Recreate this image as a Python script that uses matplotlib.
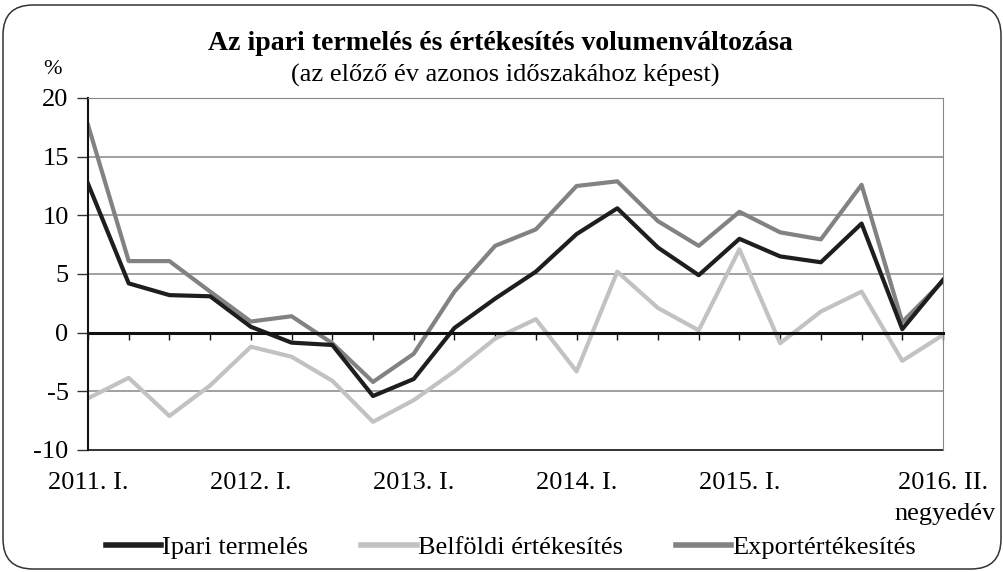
import matplotlib.pyplot as plt
from matplotlib.patches import FancyBboxPatch
from matplotlib.transforms import IdentityTransform

# negyedéves adatok, 2011. I. - 2016. II.
quarters = list(range(22))
tick_pos = [0, 4, 8, 12, 16, 21]
tick_labels = ['2011. I.', '2012. I.', '2013. I.', '2014. I.', '2015. I.', '2016. II.']

ipari = [12.7, 4.2, 3.2, 3.1, 0.5, -0.85, -1.05, -5.4, -3.95, 0.4, 2.9,
         5.2, 8.4, 10.6, 7.25, 4.9, 8.0, 6.5, 6.0, 9.3, 0.3, 4.5]
belfoldi = [-5.6, -3.85, -7.1, -4.5, -1.2, -2.05, -4.1, -7.6, -5.75, -3.3, -0.5,
            1.15, -3.3, 5.2, 2.1, 0.2, 7.1, -0.9, 1.8, 3.5, -2.4, -0.2]
export = [17.7, 6.1, 6.1, 3.5, 0.95, 1.4, -0.9, -4.2, -1.8, 3.5, 7.4,
          8.8, 12.5, 12.9, 9.5, 7.4, 10.3, 8.55, 7.95, 12.6, 0.9, 4.4]

plt.rcParams['font.family'] = ['Liberation Serif', 'DejaVu Serif']
fs = 19

W, H = 1004, 572
fig = plt.figure(figsize=(W / 100, H / 100), dpi=100)

# lekerekített keret (pixelben)
border = FancyBboxPatch((3, 3), W - 6, H - 8,
                        boxstyle='round,pad=0,rounding_size=30',
                        transform=IdentityTransform(), fill=False,
                        edgecolor='#333333', linewidth=1.1)
fig.patches.append(border)

ax = fig.add_axes([88 / W, 1 - 450 / H, (943 - 88) / W, (450 - 98) / H])

ax.set_xlim(0, 21)
ax.set_ylim(-10, 20)
ax.set_yticks([-10, -5, 0, 5, 10, 15, 20])
ax.set_yticklabels(['-10', '-5', '0', '5', '10', '15', '20'], fontsize=fs)
for v in [-5, 5, 10, 15]:
    ax.axhline(v, color='#999999', linewidth=1.3, zorder=0)

ax.plot(quarters, ipari, color='#1e1e1e', linewidth=3.0, label='Ipari termelés', zorder=3)
ax.plot(quarters, belfoldi, color='#c2c2c2', linewidth=3.0, label='Belföldi értékesítés', zorder=2)
ax.plot(quarters, export, color='#828282', linewidth=3.0, label='Exportértékesítés', zorder=2.5)

# nulla tengely kis jelölőkkel
ax.spines['bottom'].set_position(('data', 0))
ax.spines['bottom'].set_linewidth(2.2)
ax.spines['bottom'].set_color('#111111')
ax.spines['bottom'].set_zorder(4)
ax.set_xticks(quarters)
ax.tick_params(axis='x', direction='out', length=5, width=1, labelbottom=False, color='#111111')
ax.spines['left'].set_linewidth(1.5)
ax.spines['left'].set_color('#111111')
ax.spines['top'].set_color('#888888')
ax.spines['right'].set_color('#888888')
ax.tick_params(axis='y', direction='out', length=8, width=1, pad=6, color='#333333')

sec = ax.secondary_xaxis(0)
sec.set_xticks(tick_pos)
sec.set_xticklabels(tick_labels, fontsize=fs)
sec.tick_params(length=0, pad=16)
sec.spines['bottom'].set_color('#222222')
sec.spines['bottom'].set_linewidth(1.3)

fig.text(500 / W, 1 - 44 / H, 'Az ipari termelés és értékesítés volumenváltozása',
         ha='center', va='center', fontsize=20, fontweight='bold')
fig.text(505 / W, 1 - 75 / H, '(az előző év azonos időszakához képest)',
         ha='center', va='center', fontsize=fs)
fig.text(52 / W, 1 - 70 / H, '%', ha='center', va='center', fontsize=16)
fig.text(996 / W, 1 - 514 / H, 'negyedév', ha='right', va='center', fontsize=fs)

fig.legend(loc='center', bbox_to_anchor=(511 / W, 1 - 547 / H), ncol=3, frameon=False,
           fontsize=fs, handlelength=2.1, handletextpad=0.05, columnspacing=2.0)
for line in fig.legends[0].get_lines():
    line.set_linewidth(4)

fig.savefig('out.png', dpi=100)
